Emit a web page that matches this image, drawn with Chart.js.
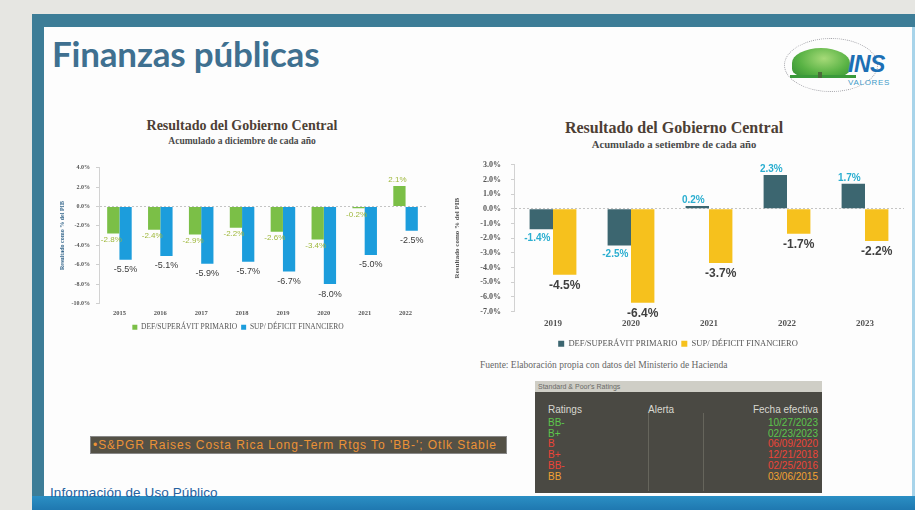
<!DOCTYPE html>
<html>
<head>
<meta charset="utf-8">
<script src="https://cdn.jsdelivr.net/npm/chart.js@4.4.0/dist/chart.umd.min.js"></script>
<style>
  html, body { margin: 0; padding: 0; }
  body { width: 915px; height: 510px; position: relative; overflow: hidden; background: #e6e6e2; font-family: "Liberation Sans", Arial, sans-serif; }
  .abs { position: absolute; }
  #frame { left: 32px; top: 14px; width: 883px; height: 496px; background: #3d7d97; }
  #inner { left: 44px; top: 27px; width: 868px; height: 469px; background: #fdfdfd; }
  #bottomband { left: 32px; top: 496px; width: 883px; height: 14px; background: linear-gradient(#2b8fc4, #1f78b0); }
  #rightedge { left: 912px; top: 27px; width: 3px; height: 469px; background: #a8d4ea; }
  #title { left: 52px; top: 32px; font-family: Lato, "Open Sans", sans-serif; font-weight: 700; font-size: 35px; color: #3f7090; letter-spacing: -0.2px; }
  .ctitle { font-family: "Liberation Serif", serif; font-weight: 700; color: #4d3f35; text-align: center; white-space: nowrap; }
  .csub { font-family: "Liberation Serif", serif; font-weight: 700; color: #4a4a4a; text-align: center; white-space: nowrap; }
  #src { left: 480px; top: 360px; font-family: "Liberation Serif", serif; font-size: 9.5px; color: #666; }
  #news { left: 90px; top: 436px; width: 413px; height: 16px; background: #545146; border: 1px solid #888; color: #ec9236; font-size: 12px; letter-spacing: 0.95px; line-height: 16px; white-space: nowrap; padding-left: 2px; overflow: hidden; }
  #foot { left: 50px; top: 485px; color: #2461a0; font-size: 13.5px; letter-spacing: 0.1px; }
  #sp { left: 535px; top: 381px; width: 287px; height: 112px; background: #4a4943; }
  #sphead { left: 0; top: 0; width: 287px; height: 11px; background: #cfcec6; color: #6a6a66; font-size: 7px; line-height: 11px; padding-left: 3px; box-sizing: border-box; }
  .spc { font-size: 10px; white-space: nowrap; }
  .vline { width: 1px; background: #66655c; top: 32px; height: 78px; }
  #logo { left: 780px; top: 36px; width: 120px; height: 60px; }
</style>
</head>
<body>
<div class="abs" id="frame"></div>
<div class="abs" id="inner"></div>
<div class="abs" id="bottomband"></div>
<div class="abs" id="rightedge"></div>

<div class="abs" id="title">Finanzas públicas</div>

<div class="abs" id="logo">
  <div class="abs" style="left:4px;top:2px;width:92px;height:52px;border:1px dotted #a0a0a6;border-radius:50%;"></div>
  <div class="abs" style="left:12px;top:12px;width:58px;height:30px;border-radius:55% 55% 35% 35%;background:radial-gradient(ellipse at 55% 35%, #a6da78, #58b244 55%, #2f8a32);"></div>
  <div class="abs" style="left:10px;top:39px;width:66px;height:3px;background:#3a9a3a;"></div>
  <div class="abs" style="left:38px;top:36px;width:4px;height:6px;background:#4b6b3a;"></div>
  <div class="abs" style="left:68px;top:15px;font-family:'Liberation Sans',sans-serif;font-weight:700;font-style:italic;font-size:23px;color:#1c6fb4;letter-spacing:-0.5px;">INS</div>
  <div class="abs" style="left:68px;top:42px;font-family:'Liberation Sans',sans-serif;font-size:8px;color:#3d9ac8;letter-spacing:0.7px;">VALORES</div>
</div>

<div class="abs ctitle" style="left:142px;top:118px;width:200px;font-size:14px;">Resultado del Gobierno Central</div>
<div class="abs csub" style="left:142px;top:136px;width:200px;font-size:9.5px;">Acumulado a diciembre de cada año</div>
<div class="abs" style="left:50px;top:158px;width:388px;height:183px;"><canvas id="leftChart"></canvas></div>

<div class="abs ctitle" style="left:554px;top:119px;width:240px;font-size:16px;">Resultado del Gobierno Central</div>
<div class="abs csub" style="left:554px;top:138px;width:240px;font-size:10.7px;">Acumulado a setiembre de cada año</div>
<div class="abs" style="left:452px;top:150px;width:456px;height:208px;"><canvas id="rightChart"></canvas></div>

<div class="abs" id="src">Fuente: Elaboración propia con datos del Ministerio de Hacienda</div>

<div class="abs" id="news">•S&amp;PGR Raises Costa Rica Long-Term Rtgs To 'BB-'; Otlk Stable</div>

<div class="abs" id="sp">
  <div class="abs" id="sphead">Standard &amp; Poor's Ratings</div>
  <div class="abs vline" style="left:113px;"></div>
  <div class="abs vline" style="left:168px;"></div>
  <div class="abs spc" style="left:13px;top:23px;color:#d8d8d0;">Ratings</div>
  <div class="abs spc" style="left:113px;top:23px;color:#d8d8d0;">Alerta</div>
  <div class="abs spc" style="right:4px;top:23px;color:#d8d8d0;">Fecha efectiva</div>
  <div id="sprows"></div>
</div>

<div class="abs" id="foot">Información de Uso Público</div>

<script>
// left chart: accumulated to December
const leftYears = ['2015', '2016', '2017', '2018', '2019', '2020', '2021', '2022'];
const leftPrimary = [-2.8, -2.4, -2.9, -2.2, -2.6, -3.4, -0.2, 2.1];
const leftFinancial = [-5.5, -5.1, -5.9, -5.7, -6.7, -8.0, -5.0, -2.5];
const leftTicks = { min: -10, max: 4, step: 2 };

// right chart: accumulated to September
const rightYears = ['2019', '2020', '2021', '2022', '2023'];
const rightPrimary = [-1.4, -2.5, 0.2, 2.3, 1.7];
const rightFinancial = [-4.5, -6.4, -3.7, -1.7, -2.2];
const rightTicks = { min: -7, max: 3, step: 1 };

const seriesNames = ['DEF/SUPERÁVIT PRIMARIO', 'SUP/ DÉFICIT FINANCIERO'];
const yTitle = 'Resultado como % del PIB';

// S&P rating history
const spRatings = ['BB-', 'B+', 'B', 'B+', 'BB-', 'BB'];
const spDates = ['10/27/2023', '02/23/2023', '06/09/2020', '12/21/2018', '02/25/2016', '03/06/2015'];
const spColors = ['#5cc64c', '#5cc64c', '#ec4438', '#ec4438', '#ec4438', '#f2a232'];

const rows = document.getElementById('sprows');
spRatings.forEach((r, i) => {
  const top = 36 + i * 10.7;
  rows.insertAdjacentHTML('beforeend',
    `<div class="abs spc" style="left:13px;top:${top}px;color:${spColors[i]}">${r}</div>` +
    `<div class="abs spc" style="right:4px;top:${top}px;color:${spColors[i]}">${spDates[i]}</div>`);
});

const barLabels = {
  id: 'barLabels',
  afterDatasetsDraw(chart, args, opts) {
    const ctx = chart.ctx;
    chart.data.datasets.forEach((ds, i) => {
      const st = opts.styles[i];
      chart.getDatasetMeta(i).data.forEach((bar, j) => {
        const v = ds.data[j];
        ctx.save();
        ctx.font = st.font;
        ctx.fillStyle = st.color;
        ctx.textAlign = 'center';
        ctx.textBaseline = 'middle';
        const y = v < 0 ? bar.y + st.below : bar.y - st.above;
        ctx.fillText(v.toFixed(1) + '%', bar.x + (st.dx || 0), y);
        ctx.restore();
      });
    });
  }
};

function makeChart(id, cfg) {
  return new Chart(document.getElementById(id), {
    type: 'bar',
    data: {
      labels: cfg.labels,
      datasets: [
        { label: seriesNames[0], data: cfg.a, backgroundColor: cfg.colors[0], categoryPercentage: 0.6, barPercentage: 1.0 },
        { label: seriesNames[1], data: cfg.b, backgroundColor: cfg.colors[1], categoryPercentage: 0.6, barPercentage: 1.0 }
      ]
    },
    options: {
      responsive: true,
      maintainAspectRatio: false,
      animation: false,
      layout: { padding: cfg.padding },
      plugins: {
        tooltip: { enabled: false },
        legend: {
          position: 'bottom',
          labels: {
            boxWidth: cfg.box, boxHeight: cfg.box, padding: 4,
            color: '#555',
            font: { family: 'Liberation Serif', size: cfg.legendSize }
          }
        },
        barLabels: { styles: cfg.labelStyles }
      },
      scales: {
        x: {
          grid: { display: false, drawTicks: false },
          border: { display: false },
          ticks: { color: '#555', padding: cfg.xPad, font: { family: 'Liberation Serif', size: cfg.xSize, weight: 'bold' } },
          afterFit: s => { s.height = cfg.xHeight; }
        },
        y: {
          min: cfg.ticks.min, max: cfg.ticks.max,
          ticks: {
            stepSize: cfg.ticks.step, padding: cfg.yPad, color: '#555',
            font: { family: 'Liberation Serif', size: cfg.ySize, weight: 'bold' },
            callback: v => v.toFixed(1) + '%'
          },
          grid: {
            color: c => c.tick && c.tick.value === 0 ? '#c4c4c4' : 'rgba(0,0,0,0)',
            tickColor: '#cfcfcf', tickLength: 3, lineWidth: 1
          },
          border: { color: '#d2d2d2', dash: [2, 2] },
          title: {
            display: true, text: yTitle, color: cfg.yTitleColor, padding: { top: cfg.yTitlePad, bottom: 0 },
            font: { family: 'Liberation Serif', size: cfg.yTitleSize, weight: 'bold' }
          },
          afterFit: s => { s.width = cfg.yWidth; }
        }
      }
    },
    plugins: [barLabels]
  });
}

makeChart('leftChart', {
  labels: leftYears, a: leftPrimary, b: leftFinancial, ticks: leftTicks,
  colors: ['#7bbf47', '#1c9ddc'],
  padding: { top: 9, right: 12, left: 0, bottom: 0 },
  box: 5, legendSize: 7.5, xPad: 6, xSize: 6.5, xHeight: 16, yPad: 6, ySize: 6, yWidth: 49,
  yTitleColor: '#3a6a8e', yTitlePad: 9, yTitleSize: 6,
  labelStyles: [
    { font: '8px "Liberation Sans"', color: '#9fb83c', below: 6, above: 6, dx: -2 },
    { font: '9px "Liberation Sans"', color: '#3a3a3a', below: 10, above: 6 }
  ]
});

makeChart('rightChart', {
  labels: rightYears, a: rightPrimary, b: rightFinancial, ticks: rightTicks,
  colors: ['#3c6670', '#f6c11d'],
  padding: { top: 13, right: 4, left: 0, bottom: 0 },
  box: 6, legendSize: 8.5, xPad: 7, xSize: 9, xHeight: 24, yPad: 10, ySize: 8, yWidth: 62,
  yTitleColor: '#555', yTitlePad: 1, yTitleSize: 7,
  labelStyles: [
    { font: 'bold 10px "Liberation Sans"', color: '#2aaed0', below: 9, above: 6, dx: -4 },
    { font: 'bold 12px "Liberation Sans"', color: '#404040', below: 11, above: 6 }
  ]
});
</script>
</body>
</html>
